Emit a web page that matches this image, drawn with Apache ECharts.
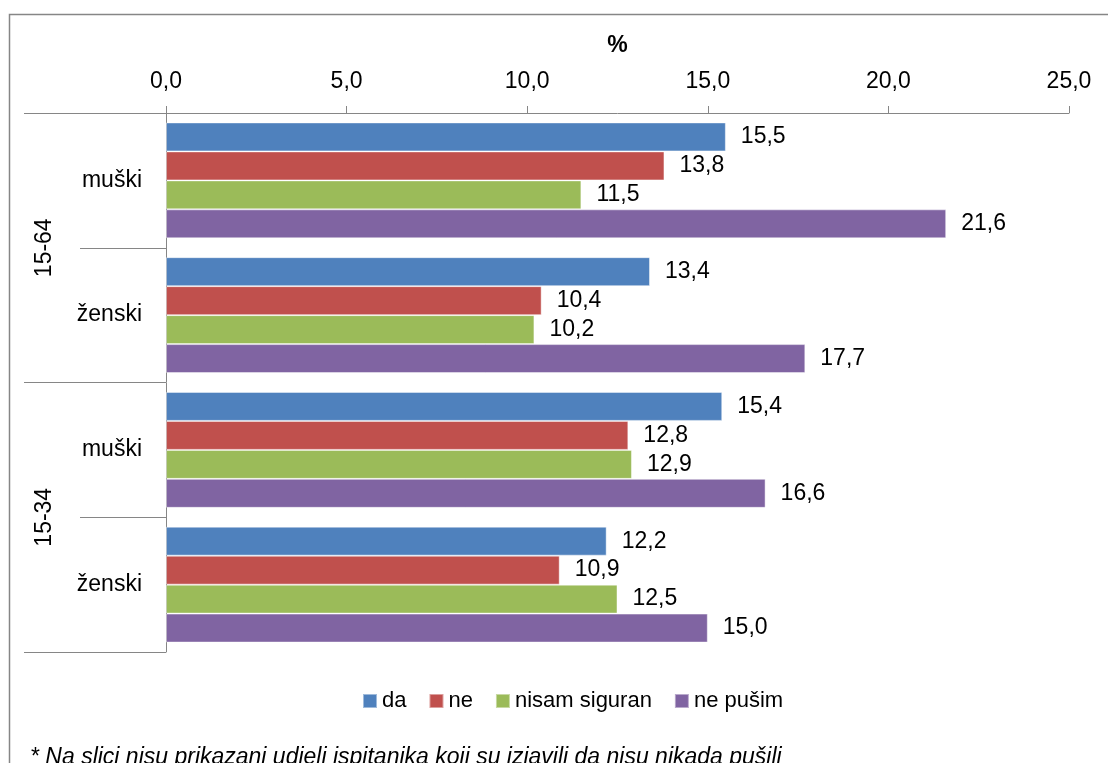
<!DOCTYPE html>
<html><head><meta charset="utf-8">
<script src="https://cdn.jsdelivr.net/npm/echarts@6/dist/echarts.min.js"></script>
<style>html,body{margin:0;padding:0;background:#fff}#c{width:1108px;height:763px}</style>
</head><body><div id="c"></div>
<script>
const subCategories = ['muški', 'ženski', 'muški', 'ženski'];
const groups = ['15-64', '15-34'];
const seriesNames = ['da', 'ne', 'nisam siguran', 'ne pušim'];
const da = [15.5, 13.4, 15.4, 12.2];
const ne = [13.8, 10.4, 12.8, 10.9];
const nisamSiguran = [11.5, 10.2, 12.9, 12.5];
const nePusim = [21.6, 17.7, 16.6, 15.0];
const colors = ['#4F81BD', '#C0504D', '#9BBB59', '#8064A2'];
const footnote = '* Na slici nisu prikazani udjeli ispitanika koji su izjavili da nisu nikada pušili';

const FONT = '"Liberation Sans", Arial, sans-serif';
const fmt = v => v.toFixed(1).replace('.', ',');
const values = [da, ne, nisamSiguran, nePusim];

const chart = echarts.init(document.getElementById('c'));
chart.setOption({
  animation: false,
  backgroundColor: '#fff',
  textStyle: { fontFamily: FONT },
  grid: { left: 166, top: 113, right: 39, bottom: 111, containLabel: false },
  legend: {
    data: seriesNames,
    left: 357, top: 685,
    itemWidth: 14, itemHeight: 14, itemGap: 22,
    icon: 'rect',
    textStyle: { fontFamily: FONT, fontSize: 22, color: '#000' }
  },
  xAxis: {
    type: 'value', position: 'top', min: 0, max: 25, interval: 5,
    name: '%', nameLocation: 'middle', nameGap: 56,
    nameTextStyle: { fontFamily: FONT, fontSize: 23, fontWeight: 'bold', color: '#000' },
    axisLine: { show: true, lineStyle: { color: '#868686' } },
    axisTick: { show: true, length: 7, lineStyle: { color: '#868686' } },
    axisLabel: { formatter: v => fmt(v), fontSize: 23, color: '#000', margin: 20, fontFamily: FONT },
    splitLine: { show: false }
  },
  yAxis: [
    {
      type: 'category', data: subCategories, inverse: true, position: 'left',
      axisLine: { show: true, lineStyle: { color: '#868686' } },
      axisTick: { show: true, length: 86, lineStyle: { color: '#868686' } },
      axisLabel: { fontSize: 23, color: '#000', margin: 24, fontFamily: FONT }
    },
    {
      type: 'category', data: groups, inverse: true, position: 'left', offset: 86,
      axisLine: { show: false },
      axisTick: { show: true, length: 56, lineStyle: { color: '#868686' } },
      axisLabel: { fontSize: 23, color: '#000', rotate: 90, margin: 24, fontFamily: FONT }
    }
  ],
  series: seriesNames.map((name, i) => ({
    name, type: 'bar', yAxisIndex: 0, data: values[i],
    barGap: '0%', barCategoryGap: '14%',
    itemStyle: { color: colors[i], borderColor: 'rgba(255,255,255,0.45)', borderWidth: 1 },
    label: { show: true, position: 'right', distance: 15, formatter: p => fmt(p.value),
      fontSize: 23, color: '#000', fontFamily: FONT }
  })),
  graphic: [
    { type: 'rect', shape: { x: 9.5, y: 14.5, width: 1200, height: 800 },
      style: { fill: null, stroke: '#868686', lineWidth: 1.5 }, silent: true, z: -1 },
    { type: 'text', left: 30, top: 746,
      style: { text: footnote, font: 'italic 23px ' + FONT, fill: '#000' } }
  ]
});
</script></body></html>
